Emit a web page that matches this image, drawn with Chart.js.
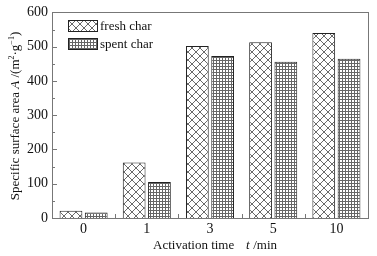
<!DOCTYPE html>
<html>
<head>
<meta charset="utf-8">
<script src="https://cdn.jsdelivr.net/npm/chart.js@4/dist/chart.umd.min.js"></script>
<style>
  html, body { margin: 0; padding: 0; background: #fff; }
  #wrap { width: 377px; height: 256px; }
</style>
</head>
<body>
<div id="wrap"><canvas id="c" width="377" height="256"></canvas></div>
<script>
const categories = ["0", "1", "3", "5", "10"];
const freshChar = [21, 162, 502, 513, 540];
const spentChar = [16, 105, 473, 456, 465];
const seriesNames = ["fresh char", "spent char"];
const yTicks = [0, 100, 200, 300, 400, 500, 600];

const FONT = "'Liberation Serif', 'Times New Roman', serif";
const FRAME = "#777";

// hatch patterns
function crossPattern(){
  const s = 8;
  const cv = document.createElement("canvas");
  cv.width = s; cv.height = s;
  const g = cv.getContext("2d");
  g.fillStyle = "#fff"; g.fillRect(0, 0, s, s);
  g.strokeStyle = "#444"; g.lineWidth = 0.8;
  g.beginPath();
  g.moveTo(0, 0); g.lineTo(s, s);
  g.moveTo(s, 0); g.lineTo(0, s);
  g.stroke();
  return g.createPattern(cv, "repeat");
}
function gridPattern(){
  const s = 3;
  const cv = document.createElement("canvas");
  cv.width = s; cv.height = s;
  const g = cv.getContext("2d");
  g.fillStyle = "#fff"; g.fillRect(0, 0, s, s);
  g.fillStyle = "#666";
  g.fillRect(0, 0, s, 1);
  g.fillRect(0, 0, 1, s);
  return g.createPattern(cv, "repeat");
}
const patFresh = crossPattern();
const patSpent = gridPattern();

const decor = {
  id: "decor",
  afterDatasetsDraw(chart){
    const ctx = chart.ctx;
    const a = chart.chartArea;
    const x = chart.scales.x, y = chart.scales.y;
    ctx.save();
    // frame
    ctx.strokeStyle = FRAME; ctx.lineWidth = 1;
    ctx.strokeRect(Math.round(a.left) + 0.5, Math.round(a.top) + 0.5,
      Math.round(a.right - a.left), Math.round(a.bottom - a.top));
    // y ticks (inward), major every 100, minor every 50
    ctx.beginPath();
    for (let v = 0; v <= 600; v += 50) {
      const py = Math.round(y.getPixelForValue(v)) + 0.5;
      const len = v % 100 === 0 ? 5 : 3;
      ctx.moveTo(a.left, py); ctx.lineTo(a.left + len, py);
    }
    // x ticks at category boundaries
    for (let i = 1; i < categories.length; i++) {
      const px = Math.round((x.getPixelForValue(i - 1) + x.getPixelForValue(i)) / 2) + 0.5;
      ctx.moveTo(px, a.bottom); ctx.lineTo(px, a.bottom - 4);
    }
    ctx.stroke();

    // legend
    const items = [[patFresh, seriesNames[0]], [patSpent, seriesNames[1]]];
    ctx.font = "13px " + FONT;
    ctx.textBaseline = "middle";
    items.forEach((it, k) => {
      const bx = 68, by = 20 + k * 18, bw = 29, bh = 11;
      ctx.fillStyle = it[0];
      ctx.fillRect(bx, by, bw, bh);
      ctx.strokeStyle = "#222";
      ctx.strokeRect(bx + 0.5, by + 0.5, bw, bh);
      ctx.fillStyle = "#111";
      ctx.fillText(it[1], bx + bw + 3, by + bh / 2 + 1);
    });

    // x title with italic t
    ctx.textBaseline = "alphabetic";
    ctx.fillStyle = "#111";
    ctx.font = "13px " + FONT;
    ctx.fillText("Activation time", 153, 249);
    ctx.font = "italic 13px " + FONT;
    ctx.fillText("t", 246, 249);
    ctx.font = "13px " + FONT;
    ctx.fillText(" /min", 250, 249);

    // y title rotated, with italic A and superscripts
    ctx.translate(19, 116);
    ctx.rotate(-Math.PI / 2);
    const parts = [
      ["Specific surface area ", "13px", 0],
      ["A", "italic 13px", 0],
      [" /(m", "13px", 0],
      ["2", "8px", -5],
      ["\u00b7g", "13px", 0],
      ["\u22121", "8px", -5],
      [")", "13px", 0]
    ];
    let total = 0;
    parts.forEach(p => { ctx.font = p[1] + " " + FONT; total += ctx.measureText(p[0]).width; });
    let cx = -total / 2;
    parts.forEach(p => {
      ctx.font = p[1] + " " + FONT;
      ctx.fillText(p[0], cx, p[2]);
      cx += ctx.measureText(p[0]).width;
    });
    ctx.restore();
  }
};

new Chart(document.getElementById("c"), {
  type: "bar",
  data: {
    labels: categories,
    datasets: [
      { label: seriesNames[0], data: freshChar, backgroundColor: patFresh,
        borderColor: "#222", borderWidth: 1, borderSkipped: "bottom" },
      { label: seriesNames[1], data: spentChar, backgroundColor: patSpent,
        borderColor: "#222", borderWidth: 1, borderSkipped: "bottom" }
    ]
  },
  options: {
    responsive: false,
    animation: false,
    layout: { padding: { top: 10, right: 9, left: 0, bottom: 0 } },
    plugins: { legend: { display: false }, tooltip: { enabled: false } },
    scales: {
      x: {
        categoryPercentage: 0.7,
        barPercentage: 1,
        grid: { display: false, drawTicks: false },
        border: { display: false },
        ticks: { color: "#111", font: { family: FONT, size: 14 }, padding: 3 },
        afterFit: (s) => { s.height = 38; }
      },
      y: {
        min: 0, max: 600,
        afterBuildTicks: (s) => { s.ticks = yTicks.map(v => ({ value: v })); },
        grid: { display: false, drawTicks: false },
        border: { display: false },
        ticks: { color: "#111", font: { family: FONT, size: 14 }, padding: 4 },
        afterFit: (s) => { s.width = 52; }
      }
    }
  },
  plugins: [decor]
});
</script>
</body>
</html>
